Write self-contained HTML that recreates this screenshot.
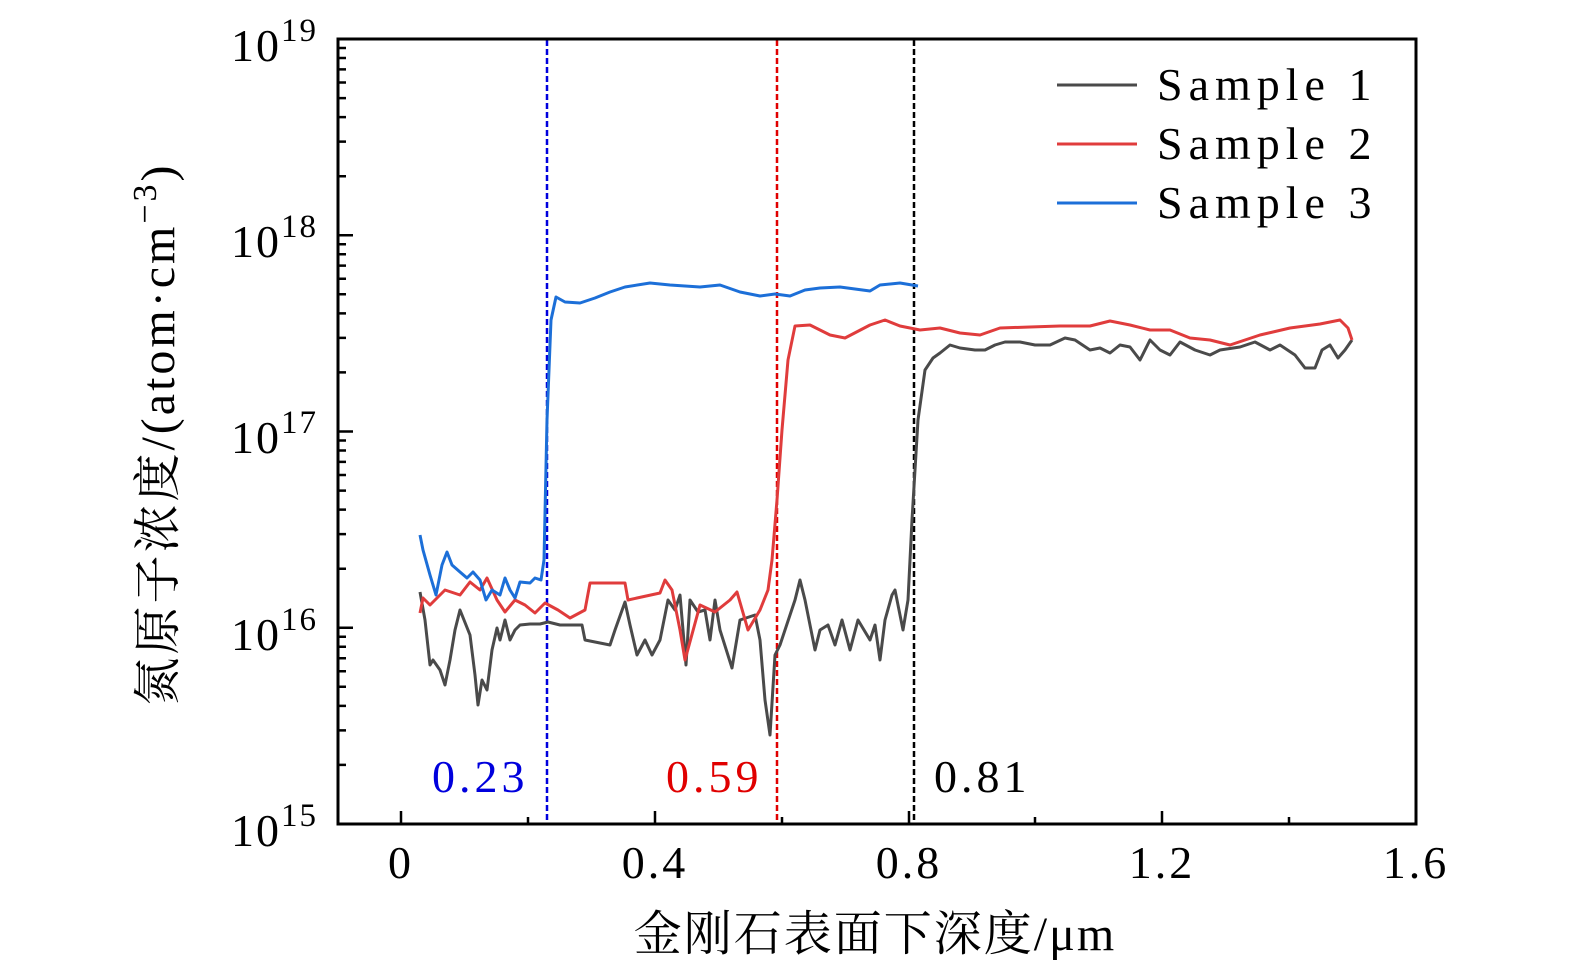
<!DOCTYPE html>
<html><head><meta charset="utf-8"><style>
html,body{margin:0;padding:0;background:#fff;overflow:hidden;width:1575px;height:974px;}
svg{display:block;}
text{font-family:"Liberation Serif","Noto Serif CJK SC",serif;}
</style></head><body>
<svg width="1575" height="974" viewBox="0 0 1575 974" xmlns="http://www.w3.org/2000/svg">
<path fill="none" stroke="#000" stroke-width="2.5" d="
M338 764.9h8M338 730.4h8M338 705.9h8M338 686.8h8M338 671.3h8M338 658.2h8M338 646.8h8M338 636.7h8
M338 568.7h8M338 534.1h8M338 509.6h8M338 490.6h8M338 475.0h8M338 461.9h8M338 450.5h8M338 440.5h8
M338 372.4h8M338 337.9h8M338 313.4h8M338 294.3h8M338 278.8h8M338 265.6h8M338 254.3h8M338 244.2h8
M338 176.2h8M338 141.6h8M338 117.1h8M338 98.1h8M338 82.5h8M338 69.4h8M338 58.0h8M338 48.0h8
M338 627.75h15M338 431.5h15M338 235.25h15
M401 824v-13M655 824v-13M909 824v-13M1162 824v-13
M528 824v-7M782 824v-7M1035 824v-7M1289 824v-7"/>
<line x1="547" y1="40" x2="547" y2="823" stroke="#0000dd" stroke-width="2.5" stroke-dasharray="6,3"/>
<line x1="777" y1="40" x2="777" y2="823" stroke="#e00000" stroke-width="2.5" stroke-dasharray="6,3"/>
<line x1="914" y1="40" x2="914" y2="823" stroke="#000" stroke-width="2.5" stroke-dasharray="6,3"/>
<polyline fill="none" stroke="#4a4a4a" stroke-width="3" stroke-linejoin="round" points="420,592 425,620 430,665 433,660 440,670 445,685 450,660 455,630 460,610 470,635 475,675 478,705 482,680 487,690 492,650 497,628 500,640 505,620 510,640 515,630 520,625 530,624 540,624 548,622 560,625 582,625 585,640 610,645 615,630 625,602 630,625 637,655 645,640 652,655 660,640 668,600 675,610 680,595 686,665 690,600 698,612 705,610 710,640 715,600 720,630 732,668 740,620 755,615 760,640 765,700 770,735 775,655 780,645 795,600 800,580 805,600 815,650 820,630 828,625 835,645 842,620 850,650 858,620 870,640 875,625 880,660 885,620 892,595 895,590 903,630 908,600 912,520 918,420 925,370 933,358 940,353 950,345 960,348 975,350 985,350 995,345 1005,342 1020,342 1035,345 1050,345 1065,338 1075,340 1090,350 1100,348 1110,353 1120,345 1130,347 1140,360 1150,340 1160,350 1170,355 1180,342 1195,350 1210,355 1220,350 1240,347 1255,342 1270,350 1280,345 1295,355 1305,368 1315,368 1322,350 1330,345 1338,358 1345,350 1352,340"/>
<polyline fill="none" stroke="#e03c3c" stroke-width="3" stroke-linejoin="round" points="420,613 423,598 430,605 445,590 460,595 470,582 480,590 487,578 497,600 505,612 515,600 525,605 535,613 545,603 558,610 570,618 585,610 590,583 625,583 628,600 660,593 665,580 672,590 680,630 685,660 700,605 715,612 730,600 737,592 748,630 760,610 768,590 772,560 777,500 782,430 788,360 795,326 810,325 830,335 845,338 870,325 885,320 900,326 920,330 940,328 960,333 980,335 1000,328 1030,327 1060,326 1090,326 1110,321 1130,325 1150,330 1170,330 1190,338 1210,340 1230,345 1260,335 1290,328 1320,324 1340,320 1348,328 1352,340"/>
<polyline fill="none" stroke="#1c6fd8" stroke-width="3" stroke-linejoin="round" points="420,535 423,550 430,575 436,595 442,565 447,552 452,565 460,572 467,578 473,572 480,580 486,600 492,590 500,595 505,578 510,590 515,598 520,582 530,583 535,578 541,580 544,560 547,420 551,320 556,297 565,302 580,303 595,298 610,292 625,287 650,283 670,285 700,287 720,285 740,292 760,296 775,294 790,296 805,290 820,288 840,287 870,291 880,285 900,283 918,286"/>
<rect x="338" y="39" width="1078" height="785" fill="none" stroke="#000" stroke-width="3"/>
<line x1="1057" y1="85" x2="1137" y2="85" stroke="#4a4a4a" stroke-width="3"/>
<line x1="1057" y1="144" x2="1137" y2="144" stroke="#e03c3c" stroke-width="3"/>
<line x1="1057" y1="203" x2="1137" y2="203" stroke="#1c6fd8" stroke-width="3"/>
<g font-size="46" fill="#000" letter-spacing="6">
<text x="1157" y="100">Sample 1</text>
<text x="1157" y="159">Sample 2</text>
<text x="1157" y="218">Sample 3</text>
</g>
<g font-size="46" letter-spacing="4">
<text x="432" y="792" fill="#0000dd">0.23</text>
<text x="666" y="792" fill="#e00000">0.59</text>
<text x="934" y="792" fill="#000">0.81</text>
</g>
<g font-size="46" fill="#000" text-anchor="end" letter-spacing="2">
<text x="318" y="61">10<tspan font-size="33" dy="-20">19</tspan></text>
<text x="318" y="257">10<tspan font-size="33" dy="-20">18</tspan></text>
<text x="318" y="453">10<tspan font-size="33" dy="-20">17</tspan></text>
<text x="318" y="650">10<tspan font-size="33" dy="-20">16</tspan></text>
<text x="318" y="846">10<tspan font-size="33" dy="-20">15</tspan></text>
</g>
<g font-size="46" fill="#000" text-anchor="middle" letter-spacing="3">
<text x="401" y="878">0</text>
<text x="655" y="878">0.4</text>
<text x="909" y="878">0.8</text>
<text x="1162" y="878">1.2</text>
<text x="1416" y="878">1.6</text>
</g>
<text x="875" y="950" font-size="48" text-anchor="middle" letter-spacing="2">金刚石表面下深度/μm</text>
<text transform="translate(174,434) rotate(-90)" font-size="48" text-anchor="middle" letter-spacing="3">氮原子浓度/(atom·cm<tspan font-size="34" dy="-18">−3</tspan><tspan dy="18">)</tspan></text>
</svg>
</body></html>
